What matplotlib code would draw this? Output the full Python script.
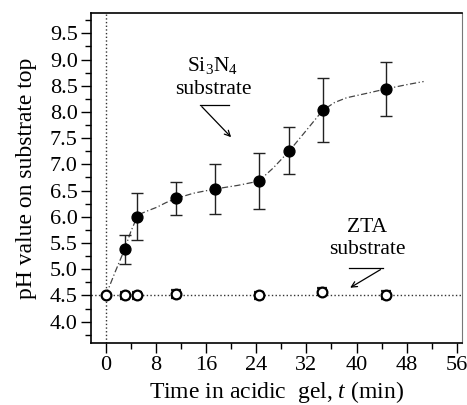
import numpy as np
import matplotlib
matplotlib.use('Agg')
import matplotlib.pyplot as plt
from matplotlib.ticker import MultipleLocator

# Si3N4 substrate (filled)
t_si = [3, 5, 11.2, 17.4, 24.4, 29.3, 34.6, 44.7]
ph_si = [5.38, 6.0, 6.35, 6.53, 6.68, 7.26, 8.03, 8.44]
err_si = [0.28, 0.45, 0.31, 0.48, 0.54, 0.45, 0.61, 0.51]

# ZTA substrate (open)
t_zta = [0, 3, 5, 11.2, 24.5, 34.5, 44.7]
ph_zta = [4.5, 4.5, 4.5, 4.53, 4.5, 4.57, 4.51]
err_zta = [0.0, 0.07, 0.07, 0.07, 0.07, 0.07, 0.07]

# guide curve
t_fit = [0, 1.5, 3, 4, 5, 5.8, 6.8, 8.1, 9.6, 11.2, 14, 17.4, 21.1, 24.4,
         26.7, 29.3, 32, 34.6, 36.5, 38.4, 42.2, 44.7, 48, 50.7]
ph_fit = [4.5, 4.95, 5.38, 5.72, 6.0, 6.07, 6.12, 6.18, 6.27, 6.35, 6.45,
          6.53, 6.6, 6.68, 6.93, 7.26, 7.65, 8.03, 8.18, 8.27, 8.37, 8.44,
          8.52, 8.58]

plt.rcParams['font.family'] = 'Liberation Serif'
plt.rcParams['mathtext.fontset'] = 'custom'
plt.rcParams['mathtext.rm'] = 'Liberation Serif'
plt.rcParams['mathtext.it'] = 'Liberation Serif:italic'


def main():
    fig = plt.figure(figsize=(4.67, 4.05), dpi=100)
    ax = fig.add_axes([0.195, 0.154, 0.794, 0.813])

    ax.axvline(0, color='#333333', linestyle=':', linewidth=1.0, zorder=1)
    ax.axhline(4.5, color='#333333', linestyle=':', linewidth=1.0, zorder=1)

    ax.plot(t_fit, ph_fit, color='#444444', linestyle=(0, (5, 2, 1, 2)),
            linewidth=0.9, zorder=2)

    ax.errorbar(t_si, ph_si, yerr=err_si, fmt='o', color='black',
                ecolor='#222222', elinewidth=1.0, capsize=4.5, capthick=1.0,
                markersize=7.8, zorder=3)
    ax.errorbar(t_zta, ph_zta, yerr=err_zta, fmt='o', color='#222222',
                markerfacecolor='white', markeredgecolor='black',
                markeredgewidth=1.6, ecolor='#222222', elinewidth=1.0,
                capsize=3.5, capthick=1.0, markersize=7, zorder=4)

    ax.set_xlim(-2.35, 56.8)
    ax.set_ylim(3.6, 9.88)
    ax.xaxis.set_major_locator(MultipleLocator(8))
    ax.xaxis.set_minor_locator(MultipleLocator(4))
    ax.yaxis.set_major_locator(MultipleLocator(0.5))
    ax.yaxis.set_minor_locator(MultipleLocator(0.25))
    ax.set_yticks(np.arange(4.0, 9.51, 0.5))
    ax.tick_params(which='major', length=7, width=1.0, labelsize=16,
                   direction='out', pad=2.5)
    ax.tick_params(which='minor', length=4, width=1.0, direction='out')
    for s in ['left', 'bottom', 'top']:
        ax.spines[s].set_linewidth(1.2)
    ax.spines['right'].set_color('#777777')

    ax.set_xlabel('Time in acidic  gel, $t$ (min)', fontsize=17, labelpad=3)
    ax.set_ylabel('pH value on substrate top', fontsize=17, labelpad=9)

    # Si3N4 label and arrow
    ax.text(17.0, 8.89, 'Si$_3$N$_4$', ha='center', va='center', fontsize=15.5)
    ax.text(17.2, 8.42, 'substrate', ha='center', va='center', fontsize=15.5)
    ax.plot([15.0, 19.7], [8.14, 8.14], color='black', linewidth=0.9)
    ax.annotate('', xy=(20.3, 7.48), xytext=(15.0, 8.14),
                arrowprops=dict(arrowstyle='->', color='black', lw=0.9))

    # ZTA label and arrow
    ax.text(41.7, 5.79, 'ZTA', ha='center', va='center', fontsize=15.5)
    ax.text(41.7, 5.38, 'substrate', ha='center', va='center', fontsize=15.5)
    ax.plot([38.8, 44.2], [5.02, 5.02], color='black', linewidth=0.9)
    ax.annotate('', xy=(38.6, 4.62), xytext=(44.2, 5.02),
                arrowprops=dict(arrowstyle='->', color='black', lw=0.9))

    fig.savefig('out.png', dpi=100)


if __name__ == '__main__':
    main()
